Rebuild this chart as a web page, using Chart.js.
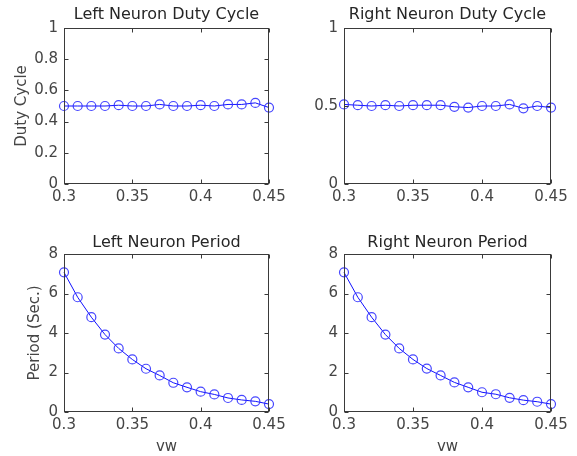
<!DOCTYPE html>
<html>
<head>
<meta charset="utf-8">
<script src="https://cdn.jsdelivr.net/npm/chart.js@4/dist/chart.umd.min.js"></script>
<style>
  html, body { margin: 0; padding: 0; background: #ffffff; }
  #wrap { position: relative; width: 577px; height: 456px; background: #ffffff; }
  canvas { position: absolute; }
</style>
</head>
<body>
<div id="wrap">
  <canvas id="c1" width="290" height="220" style="left:0px;top:0px;"></canvas>
  <canvas id="c2" width="287" height="220" style="left:290px;top:0px;"></canvas>
  <canvas id="c3" width="290" height="236" style="left:0px;top:220px;"></canvas>
  <canvas id="c4" width="287" height="236" style="left:290px;top:220px;"></canvas>
</div>
<script>
// ---- data ----
const vw = [0.30, 0.31, 0.32, 0.33, 0.34, 0.35, 0.36, 0.37, 0.38, 0.39, 0.40, 0.41, 0.42, 0.43, 0.44, 0.45];
const leftDuty = [0.50, 0.50, 0.50, 0.50, 0.505, 0.50, 0.50, 0.51, 0.50, 0.50, 0.505, 0.50, 0.51, 0.51, 0.52, 0.49];
const rightDuty = [0.51, 0.505, 0.50, 0.505, 0.50, 0.505, 0.505, 0.505, 0.495, 0.49, 0.50, 0.50, 0.51, 0.485, 0.50, 0.49];
const leftPeriod = [7.07, 5.81, 4.80, 3.92, 3.22, 2.66, 2.19, 1.85, 1.48, 1.25, 1.03, 0.89, 0.71, 0.61, 0.54, 0.40];
const rightPeriod = [7.07, 5.81, 4.80, 3.92, 3.22, 2.66, 2.20, 1.85, 1.50, 1.25, 1.00, 0.90, 0.72, 0.60, 0.52, 0.40];
const xTicks = [0.3, 0.35, 0.4, 0.45];
const dutyTicksLeft = [0, 0.2, 0.4, 0.6, 0.8, 1];
const dutyTicksRight = [0, 0.5, 1];
const periodTicks = [0, 2, 4, 6, 8];
const titles = ['Left Neuron Duty Cycle', 'Right Neuron Duty Cycle', 'Left Neuron Period', 'Right Neuron Period'];
const yTitles = ['Duty Cycle', '', 'Period (Sec.)', ''];
const xTitle = 'vw';

// ---- styles ----
const FONT = 'DejaVu Sans';
const TEXT = '#454545';
const LINE = '#1010ff';
const MARK = 'rgba(50,50,255,0.9)';

const framePlugin = {
  id: 'frame',
  afterDraw(chart) {
    const ctx = chart.ctx;
    const a = chart.chartArea;
    const L = Math.round(a.left) + 0.5, R = Math.round(a.right) - 0.5;
    const T = Math.round(a.top) + 0.5, B = Math.round(a.bottom) - 0.5;
    ctx.save();
    ctx.strokeStyle = '#3a3a3a';
    ctx.lineWidth = 1;
    ctx.strokeRect(L, T, R - L, B - T);
    const tl = 4;
    ctx.beginPath();
    chart.scales.x.ticks.forEach(t => {
      const px = Math.round(chart.scales.x.getPixelForValue(t.value)) + 0.5;
      ctx.moveTo(px, B); ctx.lineTo(px, B - tl);
      ctx.moveTo(px, T); ctx.lineTo(px, T + tl);
    });
    chart.scales.y.ticks.forEach(t => {
      const py = Math.round(chart.scales.y.getPixelForValue(t.value)) + 0.5;
      ctx.moveTo(L, py); ctx.lineTo(L + tl, py);
      ctx.moveTo(R, py); ctx.lineTo(R - tl, py);
    });
    ctx.stroke();
    ctx.restore();
  }
};

function makePanel(id, title, yData, yTicks, yMax, yTitle, showX, cfg) {
  const pts = vw.map((x, i) => ({ x: x, y: yData[i] }));
  return new Chart(document.getElementById(id), {
    type: 'line',
    data: {
      datasets: [{
        data: pts,
        borderColor: LINE,
        borderWidth: 1,
        pointStyle: 'circle',
        pointRadius: 4.5,
        pointBorderWidth: 1.2,
        pointBorderColor: MARK,
        pointBackgroundColor: 'rgba(0,0,0,0)',
        tension: 0,
        clip: false
      }]
    },
    options: {
      responsive: false,
      animation: false,
      events: [],
      layout: { padding: { left: 0, right: cfg.padRight, top: 0, bottom: 0 } },
      plugins: {
        legend: { display: false },
        tooltip: { enabled: false },
        title: {
          display: true,
          fullSize: false,
          text: title,
          color: '#262626',
          font: { family: FONT, size: 16, weight: 'normal', lineHeight: 1.2 },
          padding: { top: cfg.titleTop, bottom: cfg.titleBottom }
        }
      },
      scales: {
        x: {
          type: 'linear',
          min: 0.3,
          max: 0.45,
          afterBuildTicks: s => { s.ticks = xTicks.map(v => ({ value: v })); },
          afterFit: s => { s.height = cfg.xHeight; },
          grid: { display: false, drawTicks: false },
          border: { display: false },
          ticks: {
            color: TEXT,
            padding: 4,
            maxRotation: 0,
            autoSkip: false,
            font: { family: FONT, size: 15 },
            callback: v => String(v)
          },
          title: {
            display: showX,
            text: xTitle,
            color: TEXT,
            font: { family: FONT, size: 15, lineHeight: 1.2 },
            padding: { top: 0, bottom: 0.3 }
          }
        },
        y: {
          type: 'linear',
          min: 0,
          max: yMax,
          afterBuildTicks: s => { s.ticks = yTicks.map(v => ({ value: v })); },
          afterFit: s => { s.width = cfg.yWidth; },
          grid: { display: false, drawTicks: false },
          border: { display: false },
          ticks: {
            color: TEXT,
            padding: 6,
            autoSkip: false,
            font: { family: FONT, size: 15 },
            callback: v => String(v)
          },
          title: {
            display: yTitle !== '',
            text: yTitle,
            color: TEXT,
            font: { family: FONT, size: 15, lineHeight: 1.2 },
            padding: { top: cfg.yTitlePad, bottom: 0 }
          }
        }
      }
    },
    plugins: [framePlugin]
  });
}

makePanel('c1', titles[0], leftDuty, dutyTicksLeft, 1, yTitles[0], false,
  { padRight: 21, yWidth: 64, xHeight: 36, titleTop: 5.4, titleBottom: 3.4, yTitlePad: 13 });
makePanel('c2', titles[1], rightDuty, dutyTicksRight, 1, yTitles[1], false,
  { padRight: 26, yWidth: 54, xHeight: 36, titleTop: 5.4, titleBottom: 3.4, yTitlePad: 0 });
makePanel('c3', titles[2], leftPeriod, periodTicks, 8, yTitles[2], true,
  { padRight: 21, yWidth: 64, xHeight: 44, titleTop: 13.1, titleBottom: 1.7, yTitlePad: 26 });
makePanel('c4', titles[3], rightPeriod, periodTicks, 8, yTitles[3], true,
  { padRight: 26, yWidth: 54, xHeight: 44, titleTop: 13.1, titleBottom: 1.7, yTitlePad: 0 });
</script>
</body>
</html>
